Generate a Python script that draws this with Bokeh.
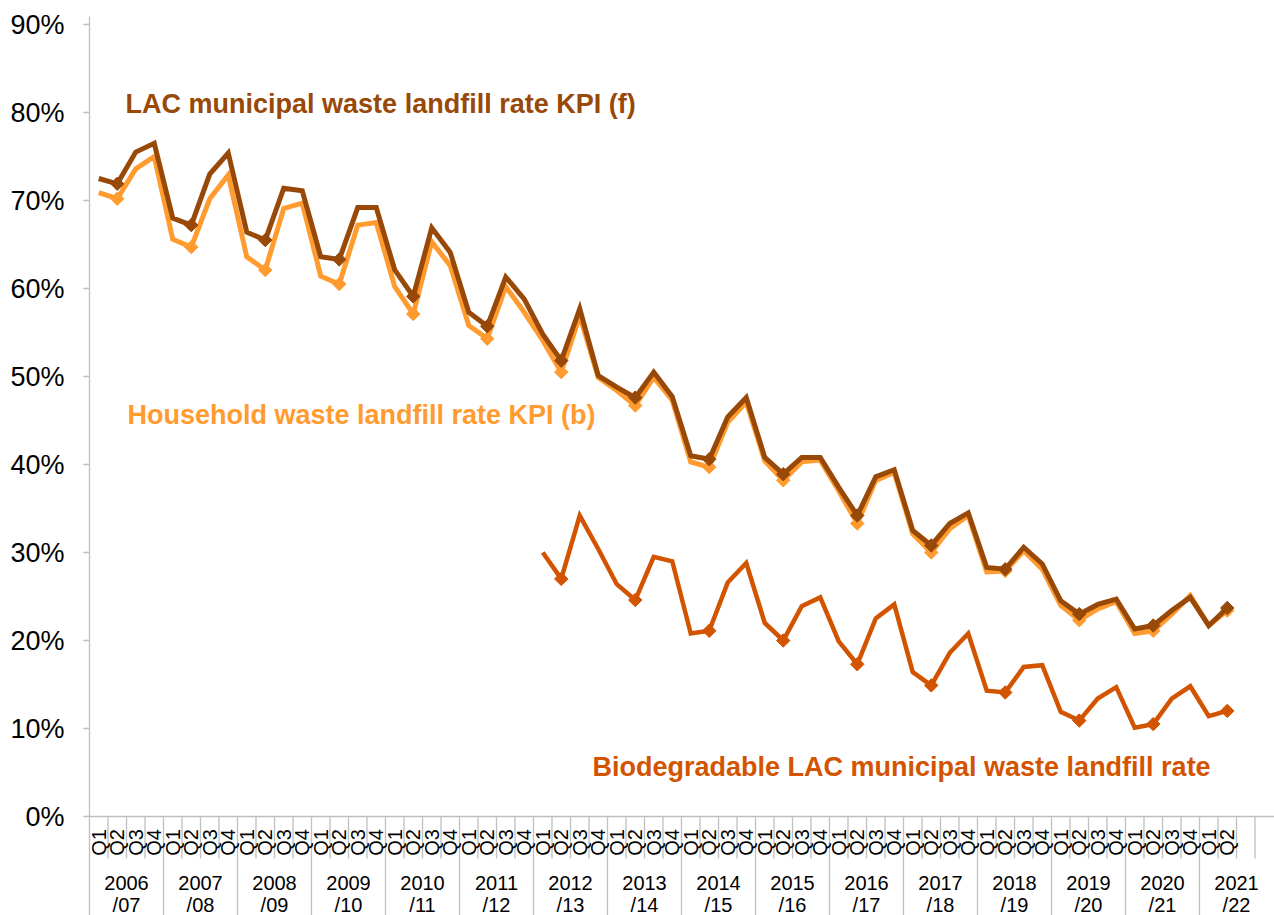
import math
from bokeh.plotting import figure
from bokeh.models import Range1d, FixedTicker, PrintfTickFormatter
from bokeh.embed import file_html
from bokeh.resources import INLINE
from bokeh.core.properties import value

# ---------------- data ----------------
years = ["2006", "2007", "2008", "2009", "2010", "2011", "2012", "2013",
         "2014", "2015", "2016", "2017", "2018", "2019", "2020", "2021"]
year_suffix = ["/07", "/08", "/09", "/10", "/11", "/12", "/13", "/14",
               "/15", "/16", "/17", "/18", "/19", "/20", "/21", "/22"]
quarters = ["Q1", "Q2", "Q3", "Q4"]
quarters_last_year = ["Q1", "Q2", "", ""]

lac = [72.5, 71.9, 75.5, 76.5, 68.0, 67.2, 73.0, 75.4, 66.4, 65.5, 71.4, 71.1,
       63.6, 63.3, 69.2, 69.2, 62.1, 59.1, 66.9, 64.1, 57.3, 55.7, 61.3, 58.8,
       54.8, 51.8, 57.7, 50.1, 48.8, 47.6, 50.5, 47.7, 41.0, 40.6, 45.4, 47.6,
       40.8, 38.9, 40.8, 40.8, 37.4, 34.2, 38.6, 39.4, 32.5, 30.8, 33.3, 34.5,
       28.3, 28.1, 30.6, 28.7, 24.5, 23.0, 24.1, 24.7, 21.3, 21.7, 23.4, 24.9,
       21.7, 23.7]
household = [70.9, 70.2, 73.6, 75.0, 65.6, 64.7, 70.2, 72.9, 63.6, 62.1, 69.1, 69.7,
             61.4, 60.5, 67.2, 67.5, 60.2, 57.1, 65.3, 62.6, 55.8, 54.3, 60.2, 57.3,
             54.1, 50.5, 56.9, 49.9, 48.4, 46.7, 49.9, 47.3, 40.3, 39.7, 44.8, 47.1,
             40.4, 38.2, 40.3, 40.5, 37.0, 33.3, 38.2, 39.1, 32.1, 30.0, 32.7, 34.2,
             27.8, 27.9, 30.2, 28.1, 24.0, 22.3, 23.6, 24.4, 20.8, 21.1, 23.0, 25.1,
             21.7, 23.4]
bio_start = 24  # first quarter with a biodegradable value (2012/13 Q1)
bio = [30.0, 27.0, 34.2, 30.4, 26.4, 24.6, 29.5, 29.0, 20.8, 21.1, 26.6, 28.8,
       22.0, 20.0, 23.9, 24.9, 19.9, 17.3, 22.5, 24.1, 16.4, 14.9, 18.6, 20.8,
       14.3, 14.1, 17.0, 17.2, 11.9, 10.9, 13.4, 14.7, 10.1, 10.5, 13.4, 14.8,
       11.4, 12.0]
y_ticks = [0, 10, 20, 30, 40, 50, 60, 70, 80, 90]

series_labels = ["LAC municipal waste landfill rate KPI (f)",
                 "Household waste landfill rate KPI (b)",
                 "Biodegradable LAC municipal waste landfill rate"]

# ---------------- styles ----------------
C_LAC = "#984807"
C_HH = "#FF9B2F"
C_BIO = "#D35400"
C_AXIS = "#BFBFBF"
FONT = "Liberation Sans"

W, H = 1274, 915
BORDER_L, BORDER_T = 89, 16
SLOT_PX = 18.5
PX_PER_PCT = 8.8
frame_w = W - BORDER_L
frame_h = H - BORDER_T
y_end = 90 + (24 - BORDER_T) / PX_PER_PCT
y_start = y_end - frame_h / PX_PER_PCT
n_slots = len(years) * 4
x_end = frame_w / SLOT_PX

p = figure(width=W, height=H, output_backend="svg", toolbar_location=None,
           x_range=Range1d(0, x_end), y_range=Range1d(y_start, y_end),
           x_axis_location=None, min_border_left=BORDER_L, min_border_top=BORDER_T,
           min_border_right=0, min_border_bottom=0)
p.outline_line_color = None
p.grid.visible = False
p.background_fill_color = "white"

ax = p.yaxis[0]
ax.ticker = FixedTicker(ticks=y_ticks)
ax.formatter = PrintfTickFormatter(format="%d%%")
ax.axis_line_color = C_AXIS
ax.axis_line_width = 1.3
ax.major_tick_line_color = C_AXIS
ax.major_tick_line_width = 1.3
ax.major_tick_out = 6
ax.major_tick_in = 0
ax.minor_tick_line_color = None
ax.major_label_text_font = FONT
ax.major_label_text_font_size = "27px"
ax.major_label_text_color = "#000000"
ax.major_label_standoff = 19

# category axis drawn below zero
slot_centers = [i + 0.5 for i in range(n_slots)]
q_labels = []
for gi in range(len(years)):
    q_labels += (quarters_last_year if gi == len(years) - 1 else quarters)

y_q = -2.95
y_qsep = -4.77
y_yr1 = -7.61
y_yr2 = -10.11

p.segment(x0=[0], y0=[0], x1=[x_end], y1=[0], line_color=C_AXIS, line_width=1.3)
inner = [k for k in range(1, n_slots) if k % 4 != 0]
p.segment(x0=inner, y0=[0] * len(inner), x1=inner, y1=[y_qsep] * len(inner),
          line_color=C_AXIS, line_width=1.3)
groups = [k for k in range(4, n_slots, 4)]
p.segment(x0=groups, y0=[0] * len(groups), x1=groups, y1=[y_start] * len(groups),
          line_color=C_AXIS, line_width=1.3)

p.text(x=slot_centers, y=[y_q] * n_slots, text=q_labels, angle=math.pi / 2,
       text_align="center", text_baseline="middle", text_font=value(FONT),
       text_font_size="20px", text_color="#000000")
g_centers = [4 * g + 2 for g in range(len(years))]
p.text(x=g_centers, y=[y_yr1] * len(years), text=years, text_align="center",
       text_baseline="middle", text_font=value(FONT), text_font_size="20px",
       text_color="#000000")
p.text(x=g_centers, y=[y_yr2] * len(years), text=year_suffix, text_align="center",
       text_baseline="middle", text_font=value(FONT), text_font_size="20px",
       text_color="#000000")

# series
x_main = [i + 0.5 for i in range(len(lac))]
x_bio = [bio_start + i + 0.5 for i in range(len(bio))]
q2_idx = [i for i in range(len(lac)) if i % 4 == 1]
q2_bio = [i for i in range(len(bio)) if (bio_start + i) % 4 == 1]

p.line(x_bio, bio, line_color=C_BIO, line_width=4.5, line_join="miter")
p.scatter([x_bio[i] for i in q2_bio], [bio[i] for i in q2_bio], marker="square",
          angle=math.pi / 4, size=9.5, fill_color=C_BIO, line_color=C_BIO, line_width=1)

p.line(x_main, household, line_color=C_HH, line_width=5, line_join="miter")
p.scatter([x_main[i] for i in q2_idx], [household[i] for i in q2_idx], marker="square",
          angle=math.pi / 4, size=9.5, fill_color=C_HH, line_color=C_HH, line_width=1)

p.line(x_main, lac, line_color=C_LAC, line_width=5, line_join="miter")
p.scatter([x_main[i] for i in q2_idx], [lac[i] for i in q2_idx], marker="square",
          angle=math.pi / 4, size=9.5, fill_color=C_LAC, line_color=C_LAC, line_width=1)

# series labels
p.text(x=[1.95], y=[81.0], text=[series_labels[0]], text_align="left",
       text_baseline="middle", text_font=value(FONT), text_font_size="27px",
       text_font_style="bold", text_color=C_LAC)
p.text(x=[2.05], y=[45.6], text=[series_labels[1]], text_align="left",
       text_baseline="middle", text_font=value(FONT), text_font_size="27px",
       text_font_style="bold", text_color=C_HH)
p.text(x=[27.19], y=[5.68], text=[series_labels[2]], text_align="left",
       text_baseline="middle", text_font=value(FONT), text_font_size="27px",
       text_font_style="bold", text_color=C_BIO)

open("out.html", "w").write(file_html(p, INLINE))
